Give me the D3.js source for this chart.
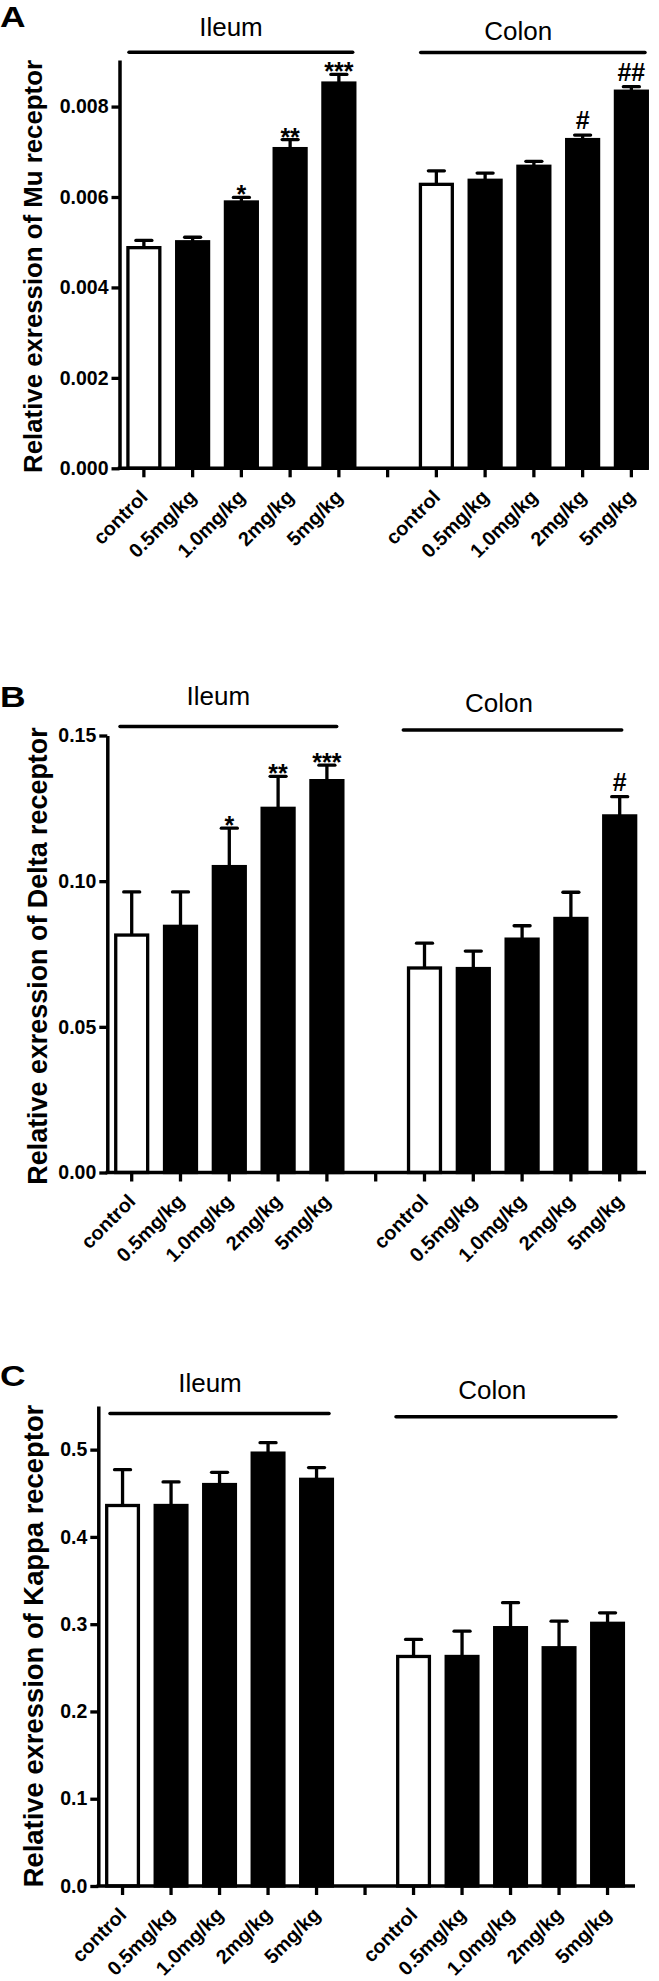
<!DOCTYPE html>
<html>
<head>
<meta charset="utf-8">
<script src="https://cdn.jsdelivr.net/npm/d3@7/dist/d3.min.js"></script>
<style>
body { margin: 0; background: #fff; }
svg { display: block; }
text { font-family: "Liberation Sans", Arial, Helvetica, sans-serif; fill: #000; }
</style>
</head>
<body>
<script>
// categories shared by all three panels
var doses = ["control", "0.5mg/kg", "1.0mg/kg", "2mg/kg", "5mg/kg"];
var tissues = ["Ileum", "Colon"];

// A - Mu receptor
var muIleum = [0.00488, 0.00501, 0.00589, 0.00707, 0.00852];
var muIleumErr = [0.00016, 0.0001, 0.0001, 0.0002, 0.00019];
var muColon = [0.00628, 0.00637, 0.00668, 0.00727, 0.00834];
var muColonErr = [0.0003, 0.00016, 0.00011, 0.0001, 0.0001];
var muIleumSig = ["", "", "*", "**", "***"];
var muColonSig = ["", "", "", "#", "##"];
var muTicks = [0, 0.002, 0.004, 0.006, 0.008];

// B - Delta receptor
var deltaIleum = [0.0815, 0.0845, 0.105, 0.125, 0.1345];
var deltaIleumErr = [0.0148, 0.0118, 0.0132, 0.011, 0.0053];
var deltaColon = [0.0702, 0.070, 0.0801, 0.0872, 0.1224];
var deltaColonErr = [0.0085, 0.006, 0.0046, 0.009, 0.0066];
var deltaIleumSig = ["", "", "*", "**", "***"];
var deltaColonSig = ["", "", "", "", "#"];
var deltaTicks = [0, 0.05, 0.10, 0.15];

// C - Kappa receptor
var kappaIleum = [0.436, 0.436, 0.460, 0.496, 0.466];
var kappaIleumErr = [0.041, 0.027, 0.014, 0.012, 0.0135];
var kappaColon = [0.263, 0.263, 0.296, 0.273, 0.301];
var kappaColonErr = [0.0195, 0.029, 0.0287, 0.0305, 0.012];
var kappaIleumSig = ["", "", "", "", ""];
var kappaColonSig = ["", "", "", "", ""];
var kappaTicks = [0, 0.1, 0.2, 0.3, 0.4, 0.5];

var svg = d3.select("body").append("svg")
  .attr("width", 659)
  .attr("height", 1981);

var panels = [
  {
    letter: "A", letterY: 27,
    title: "Relative exression of Mu receptor", titleSize: 25.8, titleX: 41.7, titleY: 266.5,
    values: [muIleum, muColon], errs: [muIleumErr, muColonErr], sigs: [muIleumSig, muColonSig],
    ticks: muTicks, fmt: ".3f", yMax: 0.00903,
    left: 119.5, bottom: 468.3, top: 60, step: 48.75, xEnd: 648,
    lines: [[129, 352.7, 52.3], [420.7, 645, 52.6]],
    labels: [[231, 35.5], [518.3, 39.5]]
  },
  {
    letter: "B", letterY: 707,
    title: "Relative exression of Delta receptor", titleSize: 26.9, titleX: 47, titleY: 956,
    values: [deltaIleum, deltaColon], errs: [deltaIleumErr, deltaColonErr], sigs: [deltaIleumSig, deltaColonSig],
    ticks: deltaTicks, fmt: ".2f", yMax: 0.15,
    left: 107.3, bottom: 1172.5, top: 735.5, step: 48.8, xEnd: 646,
    lines: [[120, 336.7, 726.5], [403.3, 621.7, 730]],
    labels: [[218.3, 705], [499, 711.7]]
  },
  {
    letter: "C", letterY: 1386,
    title: "Relative exression of Kappa receptor", titleSize: 27.4, titleX: 43.3, titleY: 1646,
    values: [kappaIleum, kappaColon], errs: [kappaIleumErr, kappaColonErr], sigs: [kappaIleumSig, kappaColonSig],
    ticks: kappaTicks, fmt: ".1f", yMax: 0.55,
    left: 98.3, bottom: 1886, top: 1406, step: 48.5, xEnd: 635,
    lines: [[110, 329, 1413.5], [396, 616, 1416.7]],
    labels: [[210, 1391.7], [492.3, 1399]]
  }
];

panels.forEach(drawPanel);

function drawPanel(p) {
  // 11 slots: five ileum doses, an empty gap, five colon doses
  var slots = [];
  doses.forEach(function(d) { slots.push("Ileum|" + d); });
  slots.push("gap");
  doses.forEach(function(d) { slots.push("Colon|" + d); });

  var x = d3.scaleBand()
    .domain(slots)
    .range([p.left, p.left + slots.length * p.step])
    .paddingInner(0.28)
    .paddingOuter(0.14);

  var y = d3.scaleLinear()
    .domain([0, p.yMax])
    .range([p.bottom, p.top]);

  var rows = [];
  tissues.forEach(function(t, ti) {
    doses.forEach(function(d, i) {
      rows.push({
        slot: t + "|" + d,
        value: p.values[ti][i],
        err: p.errs[ti][i],
        sig: p.sigs[ti][i],
        control: i == 0
      });
    });
  });

  var g = svg.append("g");
  var bw = x.bandwidth();

  // error bars (drawn first so the bar covers the lower half)
  var err = g.selectAll(".err")
    .data(rows)
    .enter()
    .append("g")
    .attr("stroke", "#000")
    .attr("stroke-width", 3.3);

  err.append("line")
    .attr("x1", function(d) { return x(d.slot) + bw / 2; })
    .attr("x2", function(d) { return x(d.slot) + bw / 2; })
    .attr("y1", function(d) { return y(d.value); })
    .attr("y2", function(d) { return y(d.value + d.err); });

  err.append("line")
    .attr("x1", function(d) { return x(d.slot) + bw / 2 - 8; })
    .attr("x2", function(d) { return x(d.slot) + bw / 2 + 8; })
    .attr("y1", function(d) { return y(d.value + d.err); })
    .attr("y2", function(d) { return y(d.value + d.err); })
    .attr("stroke-linecap", "round");

  g.selectAll(".bar")
    .data(rows)
    .enter()
    .append("rect")
    .attr("x", function(d) { return x(d.slot) + 1.6; })
    .attr("width", bw - 3.2)
    .attr("y", function(d) { return y(d.value); })
    .attr("height", function(d) { return p.bottom - y(d.value); })
    .attr("fill", function(d) { return d.control ? "#fff" : "#000"; })
    .attr("stroke", "#000")
    .attr("stroke-width", 3.3);

  // significance marks
  g.selectAll(".sig")
    .data(rows.filter(function(d) { return d.sig != ""; }))
    .enter()
    .append("text")
    .attr("x", function(d) { return x(d.slot) + bw / 2; })
    .attr("y", function(d) {
      var cap = y(d.value + d.err);
      return d.sig.charAt(0) == "*" ? cap + 6 : cap - 6;
    })
    .attr("text-anchor", "middle")
    .attr("font-size", 25)
    .attr("font-weight", "bold")
    .text(function(d) { return d.sig; });

  // y axis
  var yAxis = g.append("g")
    .attr("transform", "translate(" + p.left + ",0)")
    .call(d3.axisLeft(y).tickValues(p.ticks).tickFormat(d3.format(p.fmt)).tickSize(8).tickSizeOuter(0).tickPadding(3));
  yAxis.select(".domain").attr("stroke-width", 3.5);
  yAxis.selectAll(".tick line").attr("stroke-width", 3.3);
  yAxis.selectAll(".tick text")
    .attr("font-size", 19.5)
    .attr("font-weight", "bold")
    .attr("font-family", null);

  // x axis
  var xAxis = g.append("g")
    .attr("transform", "translate(0," + p.bottom + ")")
    .call(d3.axisBottom(x).tickSize(9).tickFormat(function(s) { return s == "gap" ? "" : s.split("|")[1]; }));
  xAxis.select(".domain").remove();
  xAxis.selectAll(".tick line").attr("stroke-width", 3.3);
  xAxis.selectAll(".tick text")
    .attr("y", 0)
    .attr("dy", 0)
    .attr("text-anchor", "end")
    .attr("transform", "translate(5,30) rotate(-45)")
    .attr("font-size", 19.8)
    .attr("font-weight", "bold")
    .attr("font-family", null);
  g.append("line")
    .attr("x1", p.left - 1.75)
    .attr("x2", p.xEnd)
    .attr("y1", p.bottom)
    .attr("y2", p.bottom)
    .attr("stroke", "#000")
    .attr("stroke-width", 3.5);

  // y title
  g.append("text")
    .attr("transform", "translate(" + p.titleX + "," + p.titleY + ") rotate(-90)")
    .attr("text-anchor", "middle")
    .attr("font-size", p.titleSize)
    .attr("font-weight", "bold")
    .text(p.title);

  // panel letter, a bit wider than the plain bold face
  g.append("text")
    .attr("transform", "translate(0," + p.letterY + ") scale(1.18,1)")
    .attr("font-size", 30)
    .attr("font-weight", "bold")
    .text(p.letter);

  // tissue brackets
  tissues.forEach(function(t, ti) {
    var ln = p.lines[ti];
    g.append("line")
      .attr("x1", ln[0])
      .attr("x2", ln[1])
      .attr("y1", ln[2])
      .attr("y2", ln[2])
      .attr("stroke", "#000")
      .attr("stroke-width", 3.5)
      .attr("stroke-linecap", "round");
    g.append("text")
      .attr("x", p.labels[ti][0])
      .attr("y", p.labels[ti][1])
      .attr("text-anchor", "middle")
      .attr("font-size", 26)
      .text(t);
  });
}
</script>
</body>
</html>
